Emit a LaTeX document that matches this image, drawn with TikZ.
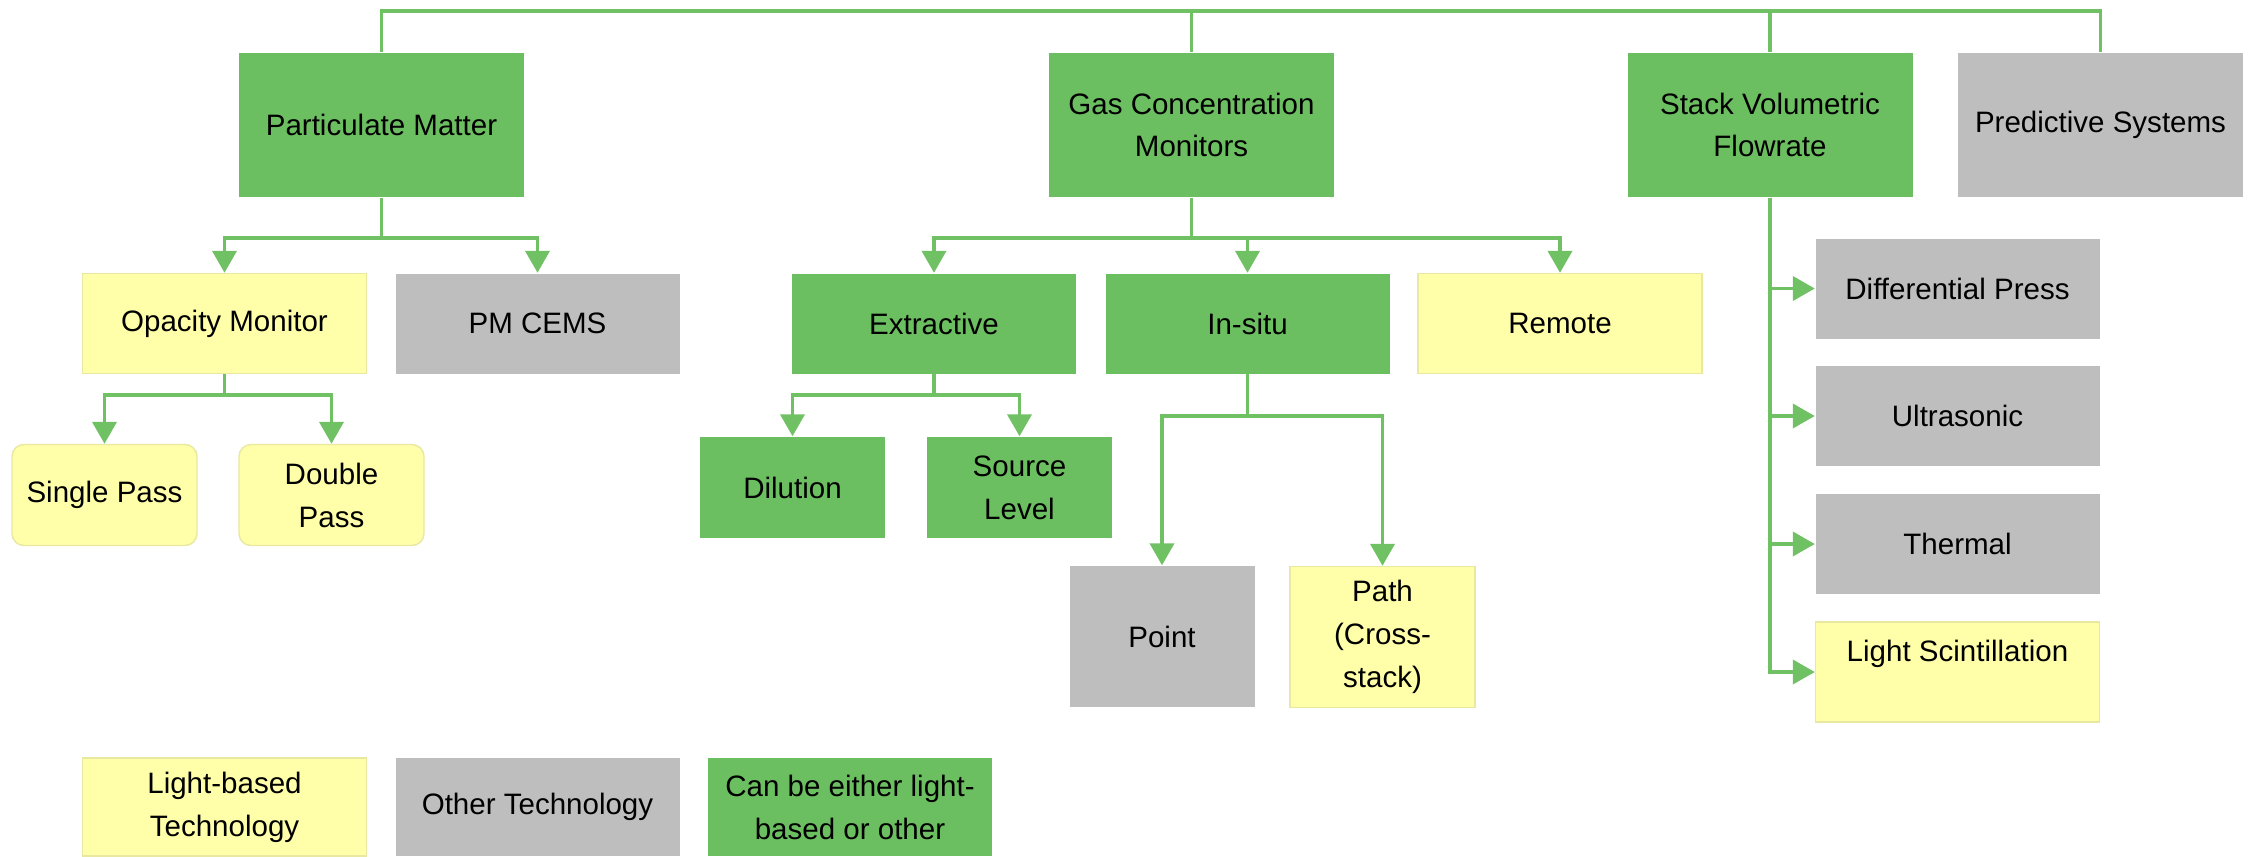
\documentclass[tikz,border=0pt]{standalone}
\usepackage{fontspec}
\setmainfont{Liberation Sans}
\usetikzlibrary{arrows.meta}

\begin{document}
\begin{tikzpicture}[x=0.1mm,y=-0.1mm,
  box/.style={rectangle,inner sep=0pt,align=center,font=\fontsize{8.4}{12.2}\selectfont},
  green_box/.style={box,fill=box_green},
  grey_box/.style={box,fill=box_grey},
  yellow_box/.style={box,fill=box_yellow,draw=yellow_edge,line width=0.4pt},
  top_size/.style={minimum width=28.5mm,minimum height=14.4mm},
  mid_size/.style={minimum width=28.4mm,minimum height=10mm},
  small_size/.style={minimum width=18.5mm,minimum height=10.1mm},
  tall_size/.style={minimum width=18.5mm,minimum height=14.1mm},
  conn/.style={draw=line_green,line width=1.1pt},
  arr/.style={conn,-{Triangle[width=2.4mm,length=2.2mm]}}]
\definecolor{box_green}{RGB}{108,191,96}
\definecolor{box_grey}{RGB}{190,190,190}
\definecolor{box_yellow}{RGB}{255,255,170}
\definecolor{yellow_edge}{RGB}{232,232,160}
\definecolor{line_green}{RGB}{112,192,100}
\useasboundingbox (0,0) rectangle (2249,856);

% top row
\node[green_box,top_size] (pm) at (381.5,125) {Particulate Matter};
\node[green_box,top_size] (gas) at (1191.5,125) {Gas Concentration\\Monitors};
\node[green_box,top_size] (svf) at (1770,125) {Stack Volumetric\\Flowrate};
\node[grey_box,top_size] (pred) at (2100.5,125) {Predictive Systems};

% second row
\node[yellow_box,mid_size] (opac) at (224.5,323.5) {Opacity Monitor};
\node[grey_box,mid_size] (pmcems) at (537.5,323.5) {PM CEMS};
\node[green_box,mid_size] (extr) at (934,323.5) {Extractive};
\node[green_box,mid_size] (insitu) at (1247.5,323.5) {In-situ};
\node[yellow_box,mid_size] (remote) at (1560,323.5) {Remote};

% third row
\node[yellow_box,small_size,rounded corners=1.2mm] (single) at (104.5,495) {Single Pass};
\node[yellow_box,small_size,rounded corners=1.2mm] (double) at (331.5,495) {Double\\Pass};
\node[green_box,small_size] (dil) at (792.5,487.5) {Dilution};
\node[green_box,small_size] (src) at (1019.5,487.5) {Source\\Level};
\node[grey_box,tall_size] (point) at (1162,636.5) {Point};
\node[yellow_box,tall_size] (path) at (1382.5,637) {Path\\(Cross-\\stack)};

% flowrate column
\node[grey_box,mid_size] (diff) at (1957.5,288.5) {Differential Press};
\node[grey_box,mid_size] (ultra) at (1957.5,416) {Ultrasonic};
\node[grey_box,mid_size] (therm) at (1957.5,544) {Thermal};
\node[yellow_box,mid_size] (light) at (1957.5,672) {Light Scintillation\\\mbox{}};

% legend
\node[yellow_box,mid_size,minimum height=9.8mm] (leg_light) at (224.5,807) {Light-based\\Technology};
\node[grey_box,mid_size,minimum height=9.8mm] (leg_other) at (537.5,807) {Other Technology};
\node[green_box,mid_size,minimum height=9.8mm] (leg_either) at (850,807) {Can be either light-\\based or other};

% connectors
\coordinate (bus) at (0,11);
\draw[conn] (pm.north) -- (pm.north |- bus) -- (pred.north |- bus) -- (pred.north);
\foreach \n in {gas,svf}{
\draw[conn] (\n.north) -- (\n.north |- bus);
}
\foreach \p/\y/\kids in {pm/238/{opac,pmcems},gas/238/{extr,insitu,remote},opac/395/{single,double},extr/395/{dil,src},insitu/416/{point,path}}{
\coordinate (\p_fork) at (\p.south |- 0,\y);
\draw[conn] (\p.south) -- (\p_fork);
\foreach \k in \kids{
\draw[arr] (\p_fork) -| (\k.north);
}
}
\foreach \k in {diff,ultra,therm,light}{
\draw[arr] (svf.south) |- (\k.west);
}
\end{tikzpicture}
\end{document}
